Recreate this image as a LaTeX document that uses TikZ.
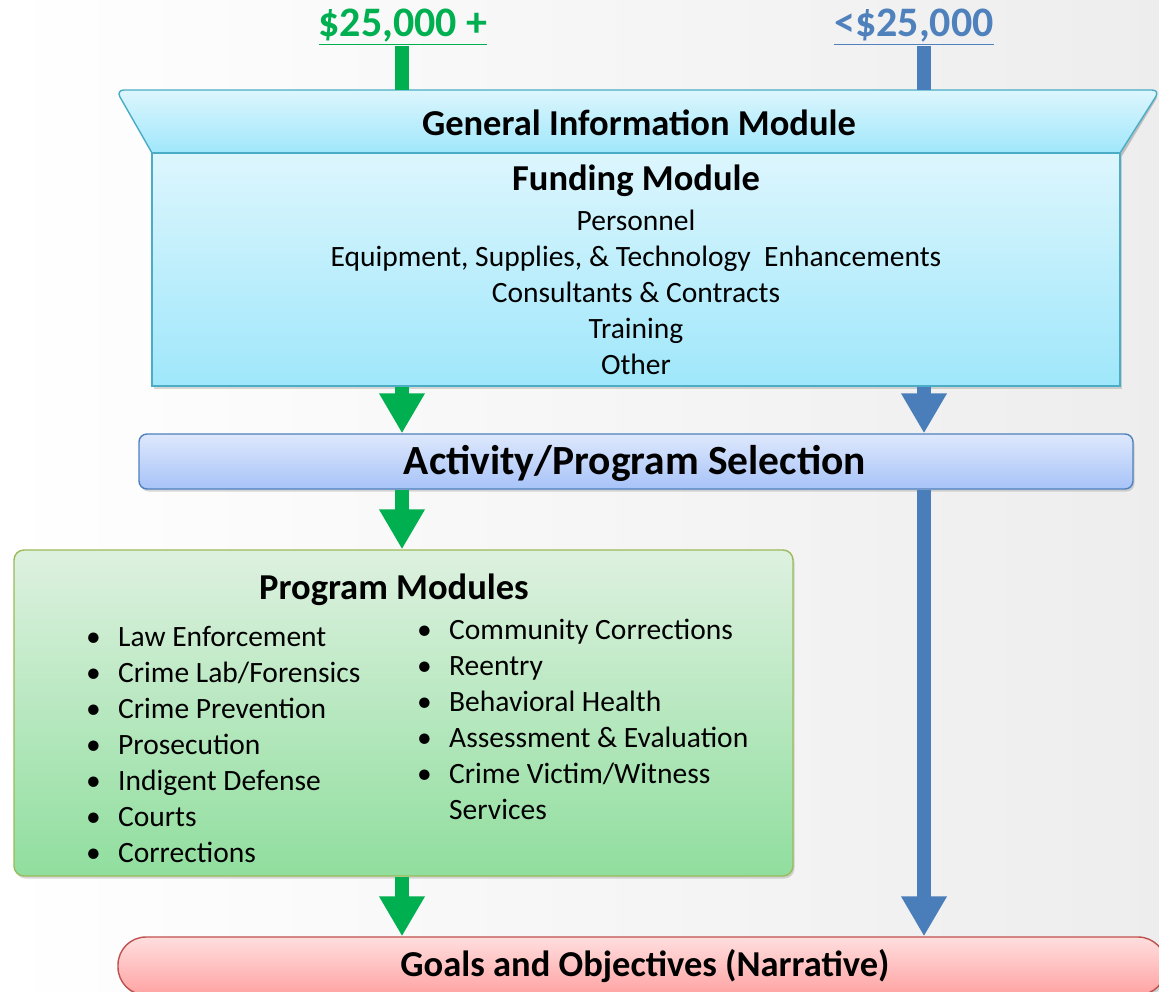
\documentclass[tikz,border=0pt]{standalone}
\usepackage{fontspec}
\setmainfont{Carlito}
\usetikzlibrary{arrows.meta,positioning,calc,shadows}
\definecolor{grn}{HTML}{00B050}
\definecolor{blu}{HTML}{4A7EBB}
\definecolor{cyd}{HTML}{4BACC6}
\definecolor{cyt}{HTML}{DDF6FD}
\definecolor{cyb}{HTML}{9FE7FB}
\definecolor{acd}{HTML}{4F81BD}
\definecolor{act}{HTML}{DEE8FC}
\definecolor{acb}{HTML}{A7C3F8}
\definecolor{pgd}{HTML}{9BBB59}
\definecolor{pgt}{HTML}{DEF1E0}
\definecolor{pgb}{HTML}{90DE9E}
\definecolor{gld}{HTML}{C0504D}
\definecolor{glt}{HTML}{FFDEDE}
\definecolor{glb}{HTML}{FFA3A3}
\newcommand{\sz}[2]{\fontsize{#1}{#2}\selectfont}
\newcommand{\bul}{\makebox[32pt][l]{\textbullet}}

\begin{document}
\begin{tikzpicture}[x=1pt,y=-1pt,
  shd/.style={drop shadow={shadow xshift=1.5pt,shadow yshift=-2.5pt,opacity=0.3}},
  modbox/.style={draw,line width=1.4pt,inner sep=0,shd},
  flow/.style={line width=14pt,-{Triangle[length=40pt,width=43pt]}},
  feed/.style={line width=14pt},
  hd/.style={font=\sz{36.5}{40}\bfseries,inner sep=0},
  it/.style={font=\sz{29.5}{36},inner sep=0}]
 \useasboundingbox (0,0) rectangle (1159,991);
 \shade[left color=white,right color=black!7] (0,0) rectangle (1159,991);
 \coordinate (gx) at (402,0);
 \coordinate (bx) at (924,0);
 \coordinate (gimtop) at (636,90);
 % amount labels
 \node[font=\sz{42}{46}\bfseries,text=grn,inner sep=1pt] (big) at (403,27) {\underline{\$25,000 +}};
 \node[font=\sz{42}{46}\bfseries,text=acd,inner sep=1pt] (small) at (914,27) {\underline{<\$25,000}};
 % general information + funding
 \fill[black,opacity=0.2] (154,156) [rounded corners=8] -- (118,93) -- (1160,93) [sharp corners] -- (1122,156) -- cycle;
 \draw[cyd,line width=1.4pt,top color=cyt,bottom color=cyb] (152,153) [rounded corners=8] -- (116,90) -- (1160,90) [sharp corners] -- (1120,153) -- cycle;
 \node[hd] (gim) at (639,123) {General Information Module};
 \node[modbox,cyd,top color=cyt,bottom color=cyb,minimum width=968pt,minimum height=233pt] (fund) at (636,269.5) {};
 \node[hd] (fundhd) at (636,181) {Funding Module};
 \node[it,align=center] (funditems) at (636,292) {Personnel\\Equipment, Supplies, \& Technology\ \ Enhancements\\Consultants \& Contracts\\Training\\Other};
 \draw[grn,feed] (big.south -| gx) -- (gimtop -| gx);
 \draw[blu,feed] (small.south -| bx) -- (gimtop -| bx);
 % selection
 \node[modbox,acd,rounded corners=8pt,top color=act,bottom color=acb,minimum width=994pt,minimum height=55pt] (sel) at (636,461.5) {};
 \node[font=\sz{41.5}{46}\bfseries,inner sep=0] at (635,463) {Activity/Program Selection};
 % program modules
 \node[modbox,pgd,rounded corners=10pt,top color=pgt,bottom color=pgb,minimum width=779pt,minimum height=326pt] (prog) at (403.5,713) {};
 \node[hd] (proghd) at (394,590) {Program Modules};
 \node[it,anchor=west] (left) at (86,747) {\begin{tabular}{@{}l@{}}
  \bul Law Enforcement\\ \bul Crime Lab/Forensics\\ \bul Crime Prevention\\
  \bul Prosecution\\ \bul Indigent Defense\\ \bul Courts\\ \bul Corrections
 \end{tabular}};
 \node[it,anchor=west] (right) at (417,722) {\begin{tabular}{@{}l@{}}
  \bul Community Corrections\\ \bul Reentry\\ \bul Behavioral Health\\
  \bul Assessment \& Evaluation\\ \bul Crime Victim/Witness\\ \hspace{32pt}Services
 \end{tabular}};
 % goals
 \node[modbox,gld,rounded corners=28pt,top color=glt,bottom color=glb,minimum width=1048pt,minimum height=58pt] (goal) at (642,966) {};
 \node[hd] at (645,966) {Goals and Objectives (Narrative)};
 % flows
 \draw[grn,flow] (fund.south -| gx) -- (sel.north -| gx);
 \draw[grn,flow] (sel.south -| gx) -- (prog.north -| gx);
 \draw[grn,flow] (prog.south -| gx) -- (goal.north -| gx);
 \draw[blu,flow] (fund.south -| bx) -- (sel.north -| bx);
 \draw[blu,flow] (sel.south -| bx) -- (goal.north -| bx);
\end{tikzpicture}
\end{document}
